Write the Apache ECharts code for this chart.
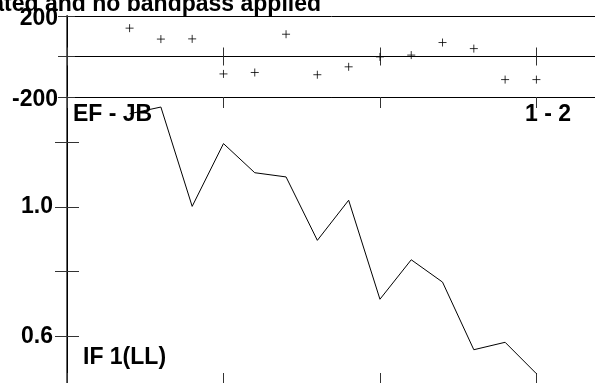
<!DOCTYPE html>
<html>
<head>
<meta charset="utf-8">
<script src="https://cdn.jsdelivr.net/npm/echarts@6/dist/echarts.min.js"></script>
<style>
  html, body { margin: 0; padding: 0; background: #fff; }
  #chart { width: 595px; height: 383px; }
</style>
</head>
<body>
<div id="chart"></div>
<script>
// sample positions along the x axis (unlabelled in the plot)
var times = [2, 3, 4, 5, 6, 7, 8, 9, 10, 11, 12, 13, 14, 15];
// phase in degrees (top panel, crosses)
var phase = [140, 86, 87, -86, -79, 110, -90, -51, -2, 7, 69, 39, -114, -114];
// amplitude (bottom panel, line)
var amplitude = [1.288, 1.309, 1.002, 1.196, 1.106, 1.093, 0.897, 1.021, 0.715, 0.837, 0.768, 0.559, 0.582, 0.485];

var phaseTicks = [-200, 0, 200];
var ampTicks = [0.6, 0.8, 1.0, 1.2];
var ampLabels = [0.6, 1.0];

var font = 'Liberation Sans, Arial, Helvetica, sans-serif';

function pairs(xs, ys) {
	var out = [];
	for (var i = 0; i < xs.length; i++) {
		out.push([xs[i], ys[i]]);
	}
	return out;
}

// x axis helper, no labels, inward ticks
function xAx(grid, pos, tickLen) {
	return {
		type: 'value', gridIndex: grid, position: pos,
		min: 0, max: 17, interval: 5,
		axisLine: { show: true, lineStyle: { color: '#000', width: 1 } },
		axisTick: { show: true, inside: true, length: tickLen, lineStyle: { color: '#333', width: 1 } },
		axisLabel: { show: false },
		splitLine: { show: false }
	};
}

var chart = echarts.init(document.getElementById('chart'), null, { renderer: 'canvas' });

var option = {
	animation: false,
	backgroundColor: '#fff',
	grid: [
		{ left: 67, top: 16, width: 532, height: 81, outerBoundsMode: 'none', containLabel: false },
		{ left: 67, top: 97, width: 532, height: 288, outerBoundsMode: 'none', containLabel: false }
	],
	xAxis: [
		xAx(0, 'bottom', 9),
		xAx(0, 'top', 9),
		xAx(1, 'top', 11),
		xAx(1, 'bottom', 12)
	],
	yAxis: [
		{
			type: 'value', gridIndex: 0, position: 'left',
			min: phaseTicks[0], max: phaseTicks[2], interval: 200,
			axisLine: { show: true, lineStyle: { color: '#666', width: 2 } },
			axisTick: { show: true, inside: true, length: 8, lineStyle: { color: '#333' } },
			axisLabel: {
				margin: 9, color: '#000', fontFamily: font, fontWeight: 'bold', fontSize: 23,
				formatter: function (v) { return v === 0 ? '' : '{t|' + v + '}'; },
				rich: {
					t: { fontFamily: font, fontWeight: 'bold', fontSize: 23, color: '#000', padding: [5, 0, 0, 0] }
				}
			},
			splitLine: { show: true, lineStyle: { color: '#000', width: 1 } }
		},
		{
			type: 'value', gridIndex: 0, position: 'right',
			min: -200, max: 200, interval: 200,
			axisLine: { show: true, lineStyle: { color: '#000' } },
			axisTick: { show: true, inside: true, length: 9, lineStyle: { color: '#333' } },
			axisLabel: { show: false },
			splitLine: { show: false }
		},
		{
			type: 'value', gridIndex: 1, position: 'left',
			min: 0.45, max: 1.34,
			axisLine: { show: true, lineStyle: { color: '#666', width: 2 } },
			axisTick: { show: true, inside: true, length: 12, customValues: ampTicks, lineStyle: { color: '#333' } },
			axisLabel: {
				margin: 14, color: '#000', fontFamily: font, fontWeight: 'bold', fontSize: 23,
				padding: [2, 0, 0, 0],
				customValues: ampLabels,
				formatter: function (v) { return v.toFixed(1); }
			},
			splitLine: { show: false }
		},
		{
			type: 'value', gridIndex: 1, position: 'right',
			min: 0.45, max: 1.34,
			axisLine: { show: true, lineStyle: { color: '#000' } },
			axisTick: { show: true, inside: true, length: 12, customValues: ampTicks, lineStyle: { color: '#333' } },
			axisLabel: { show: false },
			splitLine: { show: false }
		}
	],
	series: [
		{
			type: 'scatter',
			xAxisIndex: 0, yAxisIndex: 0,
			symbol: 'path://M4,0 L4,8 M0,4 L8,4',
			symbolSize: 8,
			itemStyle: { color: 'transparent', borderColor: '#000', borderWidth: 1 },
			data: pairs(times, phase)
		},
		{
			type: 'line',
			xAxisIndex: 2, yAxisIndex: 2,
			symbol: 'none',
			lineStyle: { color: '#000', width: 1 },
			data: pairs(times, amplitude)
		}
	],
	graphic: [
		{
			type: 'text', x: 321, y: 5,
			style: {
				text: 'calibrated and no bandpass applied', align: 'right', verticalAlign: 'middle',
				font: 'bold 23px ' + font, fill: '#000'
			}
		},
		{
			type: 'text', x: 73, y: 115,
			style: { text: 'EF - JB', align: 'left', verticalAlign: 'middle', font: 'bold 23px ' + font, fill: '#000' }
		},
		{
			type: 'text', x: 571, y: 115,
			style: { text: '1 - 2', align: 'right', verticalAlign: 'middle', font: 'bold 23px ' + font, fill: '#000' }
		},
		{
			type: 'text', x: 83, y: 358,
			style: { text: 'IF 1(LL)', align: 'left', verticalAlign: 'middle', font: 'bold 23px ' + font, fill: '#000' }
		}
	]
};

chart.setOption(option);
</script>
</body>
</html>
